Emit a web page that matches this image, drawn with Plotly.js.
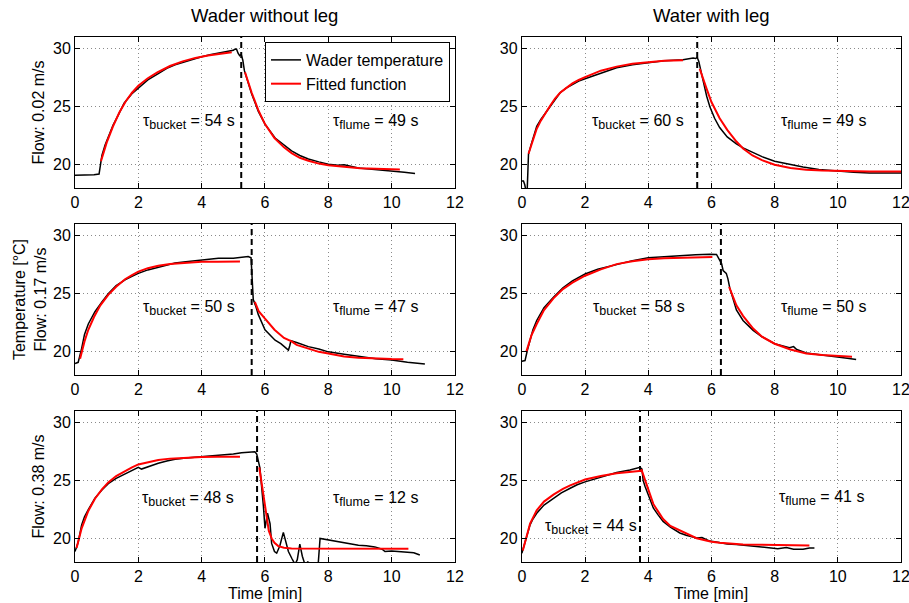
<!DOCTYPE html>
<html><head><meta charset="utf-8">
<script src="https://cdn.plot.ly/plotly-3.0.1.min.js"></script>
<style>html,body{margin:0;padding:0;background:#fff;overflow:hidden;width:909px;height:603px}#chart{width:909px;height:603px}</style>
</head><body><div id="chart"></div>
<script>
// ---------- Panel 1: Wader without leg, flow 0.02 m/s ----------
const p1_tx = [0,0.3,0.6,0.76,0.8,0.85,0.95,1.05,1.2,1.37,1.55,1.79,2.0,2.3,2.63,2.9,3.16,3.5,4.0,4.3,4.53,4.8,5.0,5.05,5.1,5.15,5.2,5.25,5.3,5.35,5.45,5.58,5.79,6.0,6.32,6.6,6.84,7.1,7.37,7.7,8.0,8.3,8.5,8.95,9.5,10.0,10.4,10.74];
const p1_ty = [19.1,19.1,19.15,19.2,20.0,20.8,21.7,22.4,23.4,24.3,25.3,26.1,26.6,27.3,27.85,28.3,28.6,28.9,29.3,29.5,29.6,29.75,29.85,29.95,29.97,29.6,29.4,29.5,29.0,28.1,27.2,26.1,24.6,23.5,22.3,21.7,21.2,20.8,20.5,20.25,20.05,19.95,20.0,19.72,19.6,19.5,19.35,19.25];
const p1_rx = [0.82,0.9,1.0,1.2,1.4,1.6,1.8,2.0,2.3,2.6,3.0,3.4,3.8,4.2,4.6,4.95];
const p1_ry = [20.3,21.1,21.9,23.3,24.5,25.45,26.2,26.8,27.45,27.95,28.5,28.9,29.2,29.4,29.57,29.68];
const p1_dx = [5.37,5.5,5.58,5.79,6.0,6.3,6.6,6.84,7.1,7.37,7.7,8.0,8.5,9.0,9.5,10.0,10.26];
const p1_dy = [27.96,26.9,26.2,24.7,23.5,22.3,21.5,21.0,20.6,20.35,20.1,19.95,19.8,19.7,19.65,19.6,19.6];

// ---------- Panel 2: Water with leg, flow 0.02 m/s ----------
const p2_tx = [0,0.05,0.09,0.12,0.17,0.19,0.21,0.3,0.47,0.6,0.75,0.9,1.05,1.21,1.4,1.6,1.8,2.0,2.3,2.6,3.0,3.5,4.0,4.5,5.1,5.3,5.42,5.5,5.55,5.6,5.65,5.74,5.85,5.95,6.1,6.26,6.5,6.79,7.0,7.3,7.6,8.0,8.4,8.9,9.4,9.95,10.5,11.0,11.5,12.0];
const p2_ty = [18.6,18.6,18.3,17.9,17.9,19.5,20.9,21.8,23.3,23.9,24.5,25.0,25.6,26.2,26.6,26.9,27.2,27.4,27.7,28.0,28.35,28.6,28.8,28.95,29.05,29.15,29.2,29.15,29.25,28.9,28.2,27.2,25.9,25.0,24.0,23.2,22.4,21.8,21.45,21.05,20.7,20.3,20.05,19.8,19.6,19.45,19.35,19.3,19.3,19.28];
const p2_rx = [0.21,0.3,0.47,0.6,0.75,0.9,1.05,1.21,1.4,1.6,1.8,2.0,2.5,3.0,3.5,4.0,4.5,5.1];
const p2_ry = [20.95,21.7,23.1,23.8,24.5,25.1,25.7,26.2,26.6,27.0,27.3,27.55,28.1,28.45,28.7,28.85,28.95,29.0];
const p2_dx = [5.63,5.74,5.84,6.0,6.26,6.5,6.79,7.0,7.3,7.6,8.0,8.5,9.0,9.5,10.0,11.0,12.0];
const p2_dy = [28.25,27.3,26.6,25.4,24.0,23.0,22.0,21.4,20.8,20.4,20.0,19.72,19.57,19.5,19.46,19.43,19.42];

// ---------- Panel 3: Wader without leg, flow 0.17 m/s ----------
const p3_tx = [0,0.1,0.21,0.3,0.42,0.63,0.85,1.05,1.3,1.58,1.8,2.0,2.3,2.63,2.9,3.16,3.5,4.0,4.3,4.53,5.0,5.26,5.47,5.56,5.6,5.63,5.7,5.79,6.0,6.15,6.32,6.5,6.74,6.78,6.82,7.0,7.37,7.7,8.0,8.5,8.95,9.5,10.0,10.5,11.05];
const p3_ty = [19.0,19.1,20.3,21.5,22.4,23.45,24.3,25.0,25.7,26.2,26.5,26.75,27.05,27.3,27.5,27.65,27.75,27.9,28.0,28.05,28.05,28.1,28.2,28.1,26.5,24.5,24.0,23.2,21.9,21.5,21.0,20.7,20.15,20.5,20.95,20.8,20.45,20.25,20.0,19.8,19.6,19.4,19.3,19.1,18.95];
const p3_rx = [0.16,0.3,0.42,0.6,0.8,1.05,1.3,1.58,1.8,2.0,2.3,2.63,3.0,3.5,4.0,4.5,5.21];
const p3_ry = [19.4,20.9,21.9,23.0,24.0,24.9,25.6,26.25,26.6,26.9,27.2,27.4,27.55,27.68,27.75,27.76,27.77];
const p3_dx = [5.68,5.8,6.0,6.3,6.6,6.84,7.0,7.37,7.7,8.0,8.5,8.95,9.5,10.0,10.37];
const p3_dy = [24.3,23.5,22.85,21.9,21.2,20.9,20.6,20.3,20.0,19.85,19.6,19.5,19.42,19.38,19.37];

// ---------- Panel 4: Water with leg, flow 0.17 m/s ----------
const p4_tx = [0,0.1,0.18,0.26,0.35,0.47,0.7,1.0,1.3,1.6,2.0,2.4,2.7,3.0,3.5,4.0,4.5,5.0,5.5,5.95,6.16,6.26,6.32,6.37,6.42,6.47,6.52,6.58,6.79,7.0,7.32,7.6,8.0,8.2,8.47,8.6,8.7,9.0,9.5,10.0,10.3,10.58];
const p4_ty = [19.2,19.25,20.2,21.0,21.9,22.7,23.8,24.7,25.5,26.1,26.7,27.1,27.3,27.55,27.85,28.1,28.2,28.28,28.35,28.4,28.38,27.9,27.6,27.0,26.9,26.75,26.3,25.5,23.6,22.7,21.85,21.3,20.7,20.55,20.35,20.45,20.2,19.9,19.75,19.55,19.45,19.35];
const p4_rx = [0.14,0.3,0.47,0.7,1.0,1.3,1.6,2.0,2.5,3.0,3.5,4.0,4.5,5.0,5.5,6.03];
const p4_ry = [20.0,21.4,22.4,23.6,24.6,25.4,25.95,26.55,27.1,27.55,27.8,27.96,28.05,28.1,28.13,28.16];
const p4_dx = [6.56,6.7,6.79,7.0,7.32,7.6,8.0,8.5,9.0,9.5,10.0,10.45];
const p4_dy = [25.6,24.6,24.0,23.1,22.0,21.3,20.7,20.2,19.86,19.72,19.63,19.57];

// ---------- Panel 5: Wader without leg, flow 0.38 m/s ----------
const p5_tx = [0,0.1,0.21,0.3,0.42,0.63,0.85,1.05,1.3,1.58,1.8,2.0,2.1,2.3,2.63,2.9,3.16,3.5,4.0,4.4,4.74,5.0,5.26,5.5,5.68,5.74,5.84,5.95,6.0,6.08,6.16,6.21,6.3,6.37,6.47,6.58,6.66,6.74,6.85,6.95,7.02,7.1,7.18,7.26,7.35,7.42,7.55,7.68,7.74,8.0,8.2,8.42,8.7,8.95,9.2,9.47,9.7,9.79,10.0,10.3,10.53,10.7,10.89];
const p5_ty = [18.9,19.7,21.2,21.9,22.5,23.5,24.2,24.75,25.2,25.6,25.9,26.15,26.0,26.2,26.5,26.7,26.85,26.95,27.05,27.15,27.25,27.3,27.4,27.45,27.5,27.3,26.1,22.8,20.9,22.2,21.3,19.6,18.9,18.76,19.4,20.55,19.8,18.9,18.3,17.8,18.2,19.54,18.5,17.8,18.0,17.9,17.8,17.8,20.03,19.9,19.85,19.7,19.55,19.45,19.4,19.3,19.1,18.9,18.95,18.9,18.85,18.8,18.6];
const p5_rx = [0.05,0.21,0.42,0.63,0.85,1.05,1.3,1.58,1.8,2.0,2.3,2.63,3.0,3.5,4.0,4.5,5.21];
const p5_ry = [19.2,20.9,22.4,23.45,24.25,24.85,25.4,25.85,26.15,26.4,26.6,26.78,26.9,27.0,27.04,27.06,27.07];
const p5_dx = [5.82,5.88,5.95,6.0,6.05,6.12,6.21,6.3,6.42,6.6,6.84,8.0,10.53];
const p5_dy = [26.15,25.0,23.9,22.7,21.6,20.7,20.03,19.65,19.37,19.22,19.17,19.15,19.15];

// ---------- Panel 6: Water with leg, flow 0.38 m/s ----------
const p6_tx = [0,0.1,0.18,0.26,0.35,0.47,0.7,1.0,1.25,1.53,1.75,2.0,2.3,2.58,3.0,3.42,3.63,3.74,3.8,3.84,3.9,4.0,4.16,4.3,4.47,4.7,5.0,5.2,5.53,5.7,5.95,6.2,6.5,6.79,7.0,7.32,7.6,7.95,8.1,8.37,8.6,8.9,9.1,9.26];
const p6_ty = [18.75,19.7,20.5,21.2,21.7,22.2,22.9,23.5,23.95,24.35,24.65,24.9,25.15,25.35,25.7,25.92,26.1,26.15,26.0,25.0,24.5,23.8,22.65,22.1,21.5,21.0,20.5,20.3,20.06,20.1,19.8,19.7,19.55,19.5,19.45,19.35,19.3,19.2,19.15,19.25,19.1,19.1,19.2,19.2];
const p6_rx = [0.03,0.26,0.47,0.7,1.0,1.3,1.53,2.0,2.5,3.0,3.4,3.79];
const p6_ry = [19.0,21.3,22.45,23.2,23.8,24.3,24.6,25.1,25.4,25.65,25.75,25.85];
const p6_dx = [3.78,3.84,4.0,4.16,4.3,4.47,4.7,5.0,5.53,6.0,6.26,7.0,8.0,9.1];
const p6_dy = [26.0,25.5,24.2,23.0,22.4,21.7,21.1,20.7,20.05,19.75,19.65,19.5,19.45,19.42];

// switch times (dashed lines), tau labels
const switchTimes = [5.25, 5.55, 5.58, 6.3, 5.75, 3.74];
const tauBucket = [54, 60, 50, 58, 48, 44];
const tauFlume = [49, 49, 47, 50, 12, 41];
const flowLabels = ["Flow: 0.02 m/s", "Flow: 0.17 m/s", "Flow: 0.38 m/s"];
const columnTitles = ["Wader without leg", "Water with leg"];
const xTicks = [0, 2, 4, 6, 8, 10, 12];
const yTicks = [20, 25, 30];

const panels = [
  {tx:p1_tx, ty:p1_ty, rx:p1_rx, ry:p1_ry, dx:p1_dx, dy:p1_dy},
  {tx:p2_tx, ty:p2_ty, rx:p2_rx, ry:p2_ry, dx:p2_dx, dy:p2_dy},
  {tx:p3_tx, ty:p3_ty, rx:p3_rx, ry:p3_ry, dx:p3_dx, dy:p3_dy},
  {tx:p4_tx, ty:p4_ty, rx:p4_rx, ry:p4_ry, dx:p4_dx, dy:p4_dy},
  {tx:p5_tx, ty:p5_ty, rx:p5_rx, ry:p5_ry, dx:p5_dx, dy:p5_dy},
  {tx:p6_tx, ty:p6_ty, rx:p6_rx, ry:p6_ry, dx:p6_dx, dy:p6_dy}
];

// label positions (layout only)
const bucketPos = [[3.6,23.65],[3.68,23.65],[3.6,23.74],[3.7,23.74],[3.58,23.42],[2.18,20.98]];
const flumePos = [[9.5,23.65],[9.55,23.65],[9.5,23.74],[9.55,23.74],[9.5,23.42],[9.47,23.48]];

const FONT = "Liberation Sans, Arial, Helvetica, sans-serif";
const YMIN = 18, YMAX = 31;
const traces = [];
const annotations = [];
const layout = {
  width: 909, height: 603,
  margin: {l: 75, r: 8, t: 37, b: 41},
  paper_bgcolor: "#fff", plot_bgcolor: "#fff",
  font: {family: FONT, size: 16, color: "#000"},
  showlegend: true,
  legend: {x: 0.454, xanchor: "right", y: 0.9905, yanchor: "top",
           bgcolor: "#fff", bordercolor: "#000", borderwidth: 1,
           font: {family: FONT, size: 16, color: "#000"},
           tracegroupgap: 0, itemwidth: 30},
  annotations: annotations
};

const colDom = [[0, 0.46], [0.541, 1.0]];
const rowDom = [[0.7124, 1.0], [0.356, 0.6438], [0, 0.2876]];

function tauText(name, val) {
  return "τ<sub><span style=\"font-size:12.5px\">" + name + "</span></sub> = " + val + " s";
}

panels.forEach((p, i) => {
  const n = i + 1;
  const row = Math.floor(i / 2), col = i % 2;
  const xa = n === 1 ? "x" : "x" + n;
  const ya = n === 1 ? "y" : "y" + n;
  const xk = n === 1 ? "xaxis" : "xaxis" + n;
  const yk = n === 1 ? "yaxis" : "yaxis" + n;
  const axCommon = {
    showline: true, linecolor: "#000", linewidth: 1, mirror: "ticks",
    ticks: "inside", ticklen: 5, tickwidth: 1, tickcolor: "#000",
    showgrid: true, gridcolor: "#8a8a8a", gridwidth: 1, griddash: "1px,3px",
    zeroline: false, fixedrange: true, ticklabeloverflow: "allow",
    tickfont: {family: FONT, size: 16, color: "#000"}
  };
  layout[xk] = Object.assign({}, axCommon, {domain: colDom[col], anchor: ya,
    range: [0, 12], tickvals: xTicks, ticktext: xTicks.map(String)});
  layout[yk] = Object.assign({}, axCommon, {domain: rowDom[row], anchor: xa,
    range: [YMIN, YMAX], tickvals: yTicks, ticktext: yTicks.map(String)});

  traces.push({x: [switchTimes[i], switchTimes[i]], y: [YMIN, YMAX], xaxis: xa, yaxis: ya,
    mode: "lines", line: {color: "#000", width: 2, dash: "6px,4px"}, showlegend: false, hoverinfo: "skip"});
  traces.push({x: p.tx, y: p.ty, xaxis: xa, yaxis: ya, mode: "lines",
    name: "Wader temperature", line: {color: "#000", width: 1.5}, showlegend: i === 0});
  traces.push({x: p.rx.concat([null], p.dx), y: p.ry.concat([null], p.dy), xaxis: xa, yaxis: ya,
    mode: "lines", name: "Fitted function", connectgaps: false,
    line: {color: "#ff0000", width: 2}, showlegend: i === 0});

  annotations.push({xref: xa, yref: ya, x: bucketPos[i][0], y: bucketPos[i][1],
    text: tauText("bucket", tauBucket[i]), showarrow: false,
    font: {family: FONT, size: 16, color: "#000"}, xanchor: "center", yanchor: "middle"});
  annotations.push({xref: xa, yref: ya, x: flumePos[i][0], y: flumePos[i][1],
    text: tauText("flume", tauFlume[i]), showarrow: false,
    font: {family: FONT, size: 16, color: "#000"}, xanchor: "center", yanchor: "middle"});
});

// column titles and x-axis titles
columnTitles.forEach((t, c) => {
  annotations.push({xref: "paper", yref: "paper", x: (colDom[c][0] + colDom[c][1]) / 2, y: 1.04,
    text: t, showarrow: false, xanchor: "center", yanchor: "middle",
    font: {family: FONT, size: 18.5, color: "#000"}});
  annotations.push({xref: "paper", yref: "paper", x: (colDom[c][0] + colDom[c][1]) / 2, y: -0.06,
    text: "Time [min]", showarrow: false, xanchor: "center", yanchor: "middle",
    font: {family: FONT, size: 16, color: "#000"}});
});

// row labels
flowLabels.forEach((t, r) => {
  const txt = r === 1 ? "Temperature [°C]<br>" + t : t;
  annotations.push({xref: "paper", yref: "paper", x: r === 1 ? -0.0551 : -0.0436,
    y: (rowDom[r][0] + rowDom[r][1]) / 2, text: txt, textangle: -90, showarrow: false,
    xanchor: "center", yanchor: "middle", font: {family: FONT, size: 16, color: "#000"}});
});

Plotly.newPlot("chart", traces, layout, {staticPlot: true, displayModeBar: false});
</script>
</body></html>
